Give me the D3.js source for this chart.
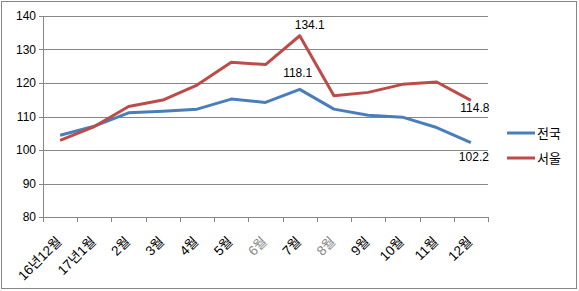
<!DOCTYPE html>
<html>
<head>
<meta charset="utf-8">
<script src="https://cdn.jsdelivr.net/npm/d3@7"></script>
<style>
	body { margin: 0; background: #fff; }
	text { font-family: "Liberation Sans", "Noto Sans CJK KR", sans-serif; }
</style>
</head>
<body>
<div id="chart"></div>
<script>
var months = ["16년12월", "17년1월", "2월", "3월", "4월", "5월", "6월", "7월", "8월", "9월", "10월", "11월", "12월"];
var nation = [104.4, 107.1, 111.1, 111.6, 112.2, 115.2, 114.2, 118.1, 112.2, 110.4, 109.8, 106.7, 102.2];
var seoul = [102.9, 107.0, 113.0, 114.9, 119.4, 126.2, 125.5, 134.1, 116.2, 117.2, 119.6, 120.3, 114.8];
var yTicks = [80, 90, 100, 110, 120, 130, 140];
var seriesNames = ["전국", "서울"];
var seriesColors = ["#4A7EBB", "#BE4B48"];
var grayLabels = ["6월", "8월"];

var width = 579, height = 291,
	margin = {top: 16, right: 91, bottom: 74, left: 43};

var svg = d3.select('#chart')
	.append('svg')
	.attr('width', width)
	.attr('height', height)
	.style('background', '#fff');

// outer frame
svg.append("rect")
	.attr("x", 1.5).attr("y", 1.5)
	.attr("width", width - 4).attr("height", height - 4)
	.attr("fill", "none")
	.attr("stroke", "#868686");

var x = d3.scaleBand()
		.domain(months)
		.range([margin.left, width - margin.right]),
	y = d3.scaleLinear()
		.domain([80, 140])
		.range([height - margin.bottom, margin.top]);

// gridlines
svg.append("g").selectAll("line")
	.data(yTicks).enter()
	.append("line")
	.attr("x1", margin.left - 4)
	.attr("x2", width - margin.right)
	.attr("y1", function(d){ return Math.round(y(d)) + 0.5; })
	.attr("y2", function(d){ return Math.round(y(d)) + 0.5; })
	.attr("stroke", "#868686");

// y labels
svg.append("g").selectAll("text")
	.data(yTicks).enter()
	.append("text")
	.attr("x", margin.left - 7)
	.attr("y", function(d){ return y(d) + 4; })
	.attr("text-anchor", "end")
	.attr("font-size", "12px")
	.attr("fill", "#000")
	.text(function(d){ return d; });

// y axis line
svg.append("line")
	.attr("x1", margin.left + 0.5).attr("x2", margin.left + 0.5)
	.attr("y1", y(140)).attr("y2", y(80))
	.attr("stroke", "#868686");

// x ticks at band edges
var edges = months.map(function(m){ return x(m); }).concat([x.range()[1]]);
svg.append("g").selectAll("line")
	.data(edges).enter()
	.append("line")
	.attr("x1", function(d){ return Math.round(d) + 0.5; })
	.attr("x2", function(d){ return Math.round(d) + 0.5; })
	.attr("y1", y(80))
	.attr("y2", y(80) + 5)
	.attr("stroke", "#868686");

// x labels
svg.append("g").selectAll("text")
	.data(months).enter()
	.append("text")
	.attr("transform", function(d){
		var cx = x(d) + x.bandwidth()/2 - 1;
		return "translate(" + cx + "," + (y(80) + 22) + ") rotate(-45)";
	})
	.attr("text-anchor", "end")
	.attr("dy", "0.35em")
	.attr("font-size", "13.5px")
	.attr("fill", function(d){ return grayLabels.indexOf(d) >= 0 ? "#888" : "#000"; })
	.text(function(d){ return d; });

var line = d3.line()
	.x(function(d, i){ return x(months[i]) + x.bandwidth()/2; })
	.y(function(d){ return y(d); });

[nation, seoul].forEach(function(values, k){
	svg.append("path")
		.datum(values)
		.attr("d", line)
		.attr("fill", "none")
		.attr("stroke", seriesColors[k])
		.attr("stroke-width", 3)
		.attr("stroke-linejoin", "round");
});

// data labels
var labels = [
	{series: nation, i: 7, dx: -2, dy: -12},
	{series: seoul, i: 7, dx: 10, dy: -7},
	{series: seoul, i: 12, dx: 4, dy: 12},
	{series: nation, i: 12, dx: 3, dy: 18}
];
svg.append("g").selectAll("text")
	.data(labels).enter()
	.append("text")
	.attr("x", function(d){ return x(months[d.i]) + x.bandwidth()/2 + d.dx; })
	.attr("y", function(d){ return y(d.series[d.i]) + d.dy; })
	.attr("text-anchor", "middle")
	.attr("font-size", "12px")
	.attr("fill", "#000")
	.text(function(d){ return d.series[d.i].toFixed(1); });

// legend
var legend = svg.append("g").selectAll("g")
	.data(seriesNames).enter()
	.append("g")
	.attr("transform", function(d, i){ return "translate(507," + (133 + i*25) + ")"; });
legend.append("line")
	.attr("x1", 0).attr("x2", 28)
	.attr("stroke", function(d, i){ return seriesColors[i]; })
	.attr("stroke-width", 3);
legend.append("text")
	.attr("x", 30)
	.attr("y", 5)
	.attr("font-size", "13px")
	.text(function(d){ return d; });
</script>
</body>
</html>
